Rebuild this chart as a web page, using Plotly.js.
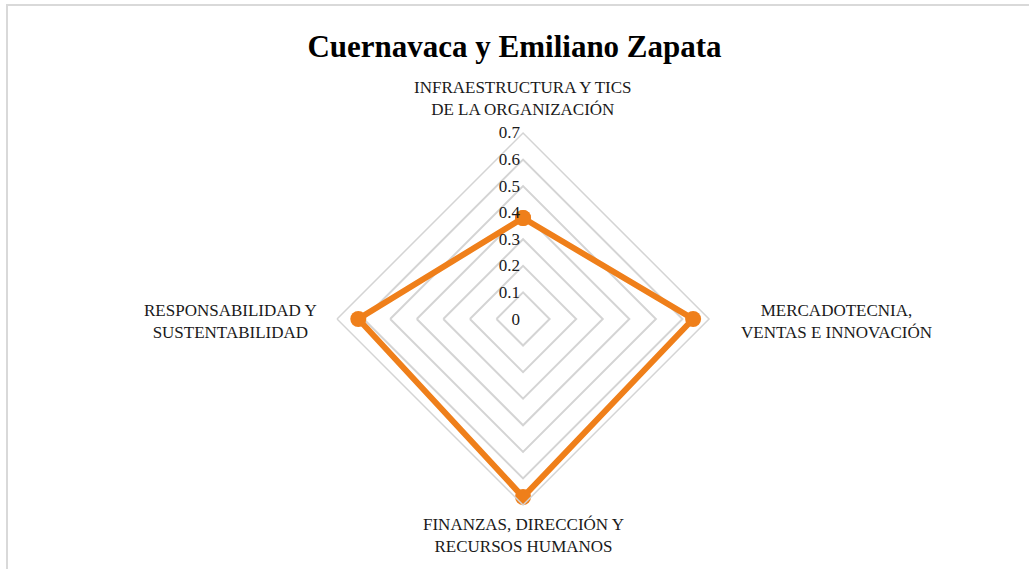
<!DOCTYPE html>
<html>
<head>
<meta charset="utf-8">
<script src="https://cdn.plot.ly/plotly-3.0.1.min.js"></script>
<style>
  html, body { margin: 0; padding: 0; background: #fff; }
  #chart { width: 1029px; height: 569px; }
</style>
</head>
<body>
<div id="chart"></div>
<script>
// Radar chart — Cuernavaca y Emiliano Zapata

const categories = [
    'INFRAESTRUCTURA Y TICS<br>DE LA ORGANIZACIÓN',
    'MERCADOTECNIA,<br>VENTAS E INNOVACIÓN',
    'FINANZAS, DIRECCIÓN Y<br>RECURSOS HUMANOS',
    'RESPONSABILIDAD Y<br>SUSTENTABILIDAD'
];
const scores = [0.38, 0.64, 0.67, 0.62];
const radialTicks = [0, 0.1, 0.2, 0.3, 0.4, 0.5, 0.6, 0.7];

// where each category label sits (paper coords), centred like the original
const labelPos = [
    { x: 523 / 1029, y: 1 - 99 / 569 },
    { x: 836 / 1029, y: 1 - 321 / 569 },
    { x: 523 / 1029, y: 1 - 535 / 569 },
    { x: 230 / 1029, y: 1 - 321 / 569 }
];

const orange = '#EF7F1A';
const gridColor = '#d4d4d4';
const serif = 'Liberation Serif, Times New Roman, serif';
const textColor = '#1a1a1a';

Plotly.newPlot('chart', [{
    type: 'scatterpolar',
    r: scores.concat(scores[0]),
    theta: categories.concat(categories[0]),
    mode: 'lines+markers',
    line:   { color: orange, width: 6 },
    marker: { color: orange, size: 16 },
    hoverinfo: 'skip'
}], {
    title: {
        text: '<b>Cuernavaca y Emiliano Zapata</b>',
        font: { family: serif, size: 31, color: '#000' },
        x: 0.5, xanchor: 'center',
        y: 1 - 46 / 569, yanchor: 'middle'
    },
    showlegend: false,
    margin: { l: 0, r: 0, t: 0, b: 0 },
    paper_bgcolor: '#fff',
    font: { family: serif, size: 17, color: textColor },
    polar: {
        domain: { x: [0.3275, 0.6891], y: [0.1125, 0.7663] },
        gridshape: 'linear',
        bgcolor: 'rgba(0,0,0,0)',
        radialaxis: {
            range: [0, 0.7],
            tickvals: radialTicks,
            ticktext: radialTicks.map(String),
            angle: 90,
            tickangle: 90,
            side: 'counterclockwise',
            showline: false,
            ticks: '',
            gridcolor: gridColor,
            gridwidth: 1.5,
            tickfont: { family: serif, size: 17, color: textColor }
        },
        angularaxis: {
            rotation: 90,
            direction: 'clockwise',
            showgrid: false,
            showline: true,
            linecolor: gridColor,
            linewidth: 1.5,
            ticks: '',
            showticklabels: false
        }
    },
    annotations: categories.map((c, i) => ({
        text: c,
        xref: 'paper', yref: 'paper',
        x: labelPos[i].x, y: labelPos[i].y,
        xanchor: 'center', yanchor: 'middle',
        align: 'center',
        showarrow: false,
        font: { family: serif, size: 17, color: textColor }
    })),
    shapes: [{
        type: 'rect', xref: 'paper', yref: 'paper',
        x0: 7 / 1029, x1: 1.05, y0: -0.05, y1: 1 - 5 / 569,
        line: { color: '#d9d9d9', width: 2 }
    }]
}, { displayModeBar: false });
</script>
</body>
</html>
